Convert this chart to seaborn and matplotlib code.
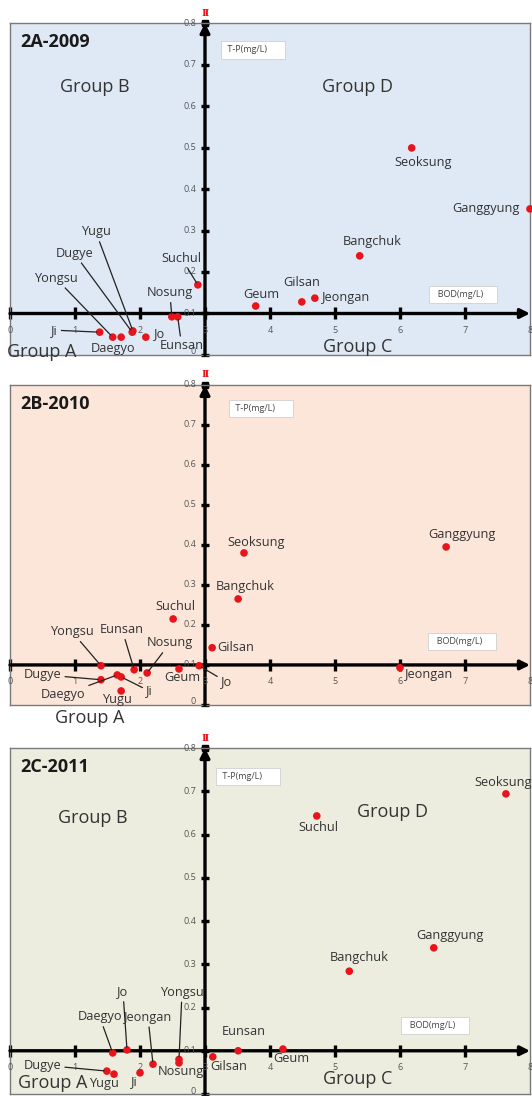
import numpy as np
import pandas as pd
import matplotlib
matplotlib.use('Agg')
import matplotlib.pyplot as plt
import seaborn as sns

sns.set_style('white')
plt.rcParams['font.family'] = ['Open Sans', 'DejaVu Sans']

stations = ['Ji', 'Yongsu', 'Daegyo', 'Dugye', 'Yugu', 'Jo', 'Nosung', 'Eunsan',
            'Suchul', 'Geum', 'Gilsan', 'Jeongan', 'Bangchuk', 'Seoksung', 'Ganggyung']

# BOD (mg/L) and T-P (mg/L) per station
bod_2009 = [1.38, 1.58, 1.71, 1.88, 1.89, 2.09, 2.49, 2.58, 2.89, 3.78, 4.49, 4.69, 5.38, 6.18, 8.00]
tp_2009 = [0.055, 0.043, 0.043, 0.055, 0.058, 0.043, 0.092, 0.092, 0.169, 0.118, 0.128, 0.137, 0.239, 0.499, 0.352]

bod_2010 = [1.71, 1.40, 1.65, 1.40, 1.71, 2.91, 2.11, 1.91, 2.51, 2.60, 3.11, 6.00, 3.51, 3.60, 6.71]
tp_2010 = [0.070, 0.098, 0.075, 0.063, 0.035, 0.098, 0.080, 0.088, 0.215, 0.090, 0.143, 0.093, 0.265, 0.380, 0.395]

bod_2011 = [2.00, 2.60, 1.58, 1.49, 1.60, 1.80, 2.60, 3.51, 4.72, 4.20, 3.12, 2.20, 5.22, 7.63, 6.52]
tp_2011 = [0.049, 0.080, 0.095, 0.053, 0.046, 0.102, 0.072, 0.100, 0.643, 0.104, 0.086, 0.069, 0.284, 0.694, 0.338]

panel_titles = ['2A-2009', '2B-2010', '2C-2011']
x_ticks = list(range(0, 9))
y_ticks = [0, 0.1, 0.2, 0.3, 0.4, 0.5, 0.6, 0.7, 0.8]
y_tick_labels = ['0', '0.1', '0.2', '0.3', '0.4', '0.5', '0.6', '0.7', '0.8']

# label placement: offset in pixels from the dot, and whether a leader line is drawn
offsets_2009 = {'Ji': (-45, 2, True), 'Yongsu': (-57, 59, True), 'Daegyo': (-8, -11, False),
                'Dugye': (-58, 79, True), 'Yugu': (-37, 99, True), 'Jo': (14, 4, False),
                'Nosung': (-2, 24, True), 'Eunsan': (4, -29, True), 'Suchul': (-16, 26, True),
                'Geum': (6, 12, False), 'Gilsan': (0, 19, False), 'Jeongan': (31, 1, False),
                'Bangchuk': (13, 14, False), 'Seoksung': (11, -15, False), 'Ganggyung': (-44, 0, False)}
offsets_2010 = {'Ji': (28, -14, True), 'Yongsu': (-29, 34, True), 'Daegyo': (-54, -20, True),
                'Dugye': (-58, 5, True), 'Yugu': (-4, -9, False), 'Jo': (27, -16, True),
                'Nosung': (23, 30, True), 'Eunsan': (-12, 40, True), 'Suchul': (2, 12, False),
                'Geum': (3, -9, False), 'Gilsan': (24, 0, False), 'Jeongan': (29, -7, False),
                'Bangchuk': (7, 12, False), 'Seoksung': (12, 10, False), 'Ganggyung': (16, 12, False)}
offsets_2011 = {'Ji': (-6, -9, False), 'Yongsu': (3, 67, True), 'Daegyo': (-13, 36, True),
                'Dugye': (-64, 6, True), 'Yugu': (-10, -9, False), 'Jo': (-4, 58, True),
                'Nosung': (2, -9, False), 'Eunsan': (6, 19, False), 'Suchul': (2, -12, False),
                'Geum': (8, -9, False), 'Gilsan': (16, -10, False), 'Jeongan': (-5, 47, True),
                'Bangchuk': (10, 14, False), 'Seoksung': (-3, 11, False), 'Ganggyung': (16, 12, False)}

groups_2009 = {'Group B': (1.31, 0.646), 'Group D': (5.35, 0.646), 'Group A': (0.49, 0.007), 'Group C': (5.35, 0.019)}
groups_2010 = {'Group A': (1.23, -0.033)}
groups_2011 = {'Group B': (1.28, 0.638), 'Group D': (5.88, 0.652), 'Group A': (0.65, 0.025), 'Group C': (5.35, 0.035)}

boxes_2009 = {'tp': (3.74, 0.735), 'bod': (6.97, 0.146)}
boxes_2010 = {'tp': (3.86, 0.741), 'bod': (6.95, 0.159)}
boxes_2011 = {'tp': (3.66, 0.735), 'bod': (6.54, 0.158)}

panels = [
    (bod_2009, tp_2009, offsets_2009, groups_2009, boxes_2009, '#dfe8f5', [0.0188, 0.6761, 0.9774, 0.3029]),
    (bod_2010, tp_2010, offsets_2010, groups_2010, boxes_2010, '#fce6d9', [0.0188, 0.3568, 0.9774, 0.2920]),
    (bod_2011, tp_2011, offsets_2011, groups_2011, boxes_2011, '#ecedde', [0.0188, 0.0018, 0.9774, 0.3157]),
]

fig = plt.figure(figsize=(5.32, 10.96), dpi=100)
txt = '#333333'

for title, (bod, tp, offs, groups, boxes, bg, rect) in zip(panel_titles, panels):
    ax = fig.add_axes(rect)
    ax.set_facecolor(bg)
    for sp in ax.spines.values():
        sp.set_color('#7a7a7a')
        sp.set_linewidth(1.0)
    ax.set_xlim(0, 8)
    ax.set_ylim(0, 0.8)
    ax.set_xticks([])
    ax.set_yticks([])

    # cross axes at BOD=3, T-P=0.1
    ax.annotate('', xy=(8, 0.1), xytext=(0, 0.1),
                arrowprops=dict(arrowstyle='-|>', lw=2.4, color='black', mutation_scale=14,
                                shrinkA=0, shrinkB=0), annotation_clip=False)
    ax.annotate('', xy=(3, 0.8), xytext=(3, 0),
                arrowprops=dict(arrowstyle='-|>', lw=2.4, color='black', mutation_scale=14,
                                shrinkA=0, shrinkB=0), annotation_clip=False)
    ax.plot(x_ticks[:-1], [0.1] * 8, ls='none', marker='|', ms=8.5, mew=2.4, color='black', clip_on=False)
    ax.plot([3] * 9, y_ticks, ls='none', marker='_', ms=6, mew=2.4, color='black', clip_on=False)
    ax.plot([3], [0.8], ls='none', marker='s', ms=4, color='black', clip_on=False)

    for xt in x_ticks:
        ax.annotate(str(xt), xy=(xt, 0.1), xytext=(0, -17), textcoords='offset pixels',
                    ha='center', va='center', fontsize=6.5, color='#555555', annotation_clip=False)
    for yt, yl in zip(y_ticks, y_tick_labels):
        ax.annotate(yl, xy=(3, yt), xytext=(-9, 3 if yt == 0 else 0), textcoords='offset pixels',
                    ha='right', va='center', fontsize=6.5, color='#555555', annotation_clip=False)

    ax.annotate('Ⅱ', xy=(3, 0.8), xytext=(0, 10), textcoords='offset pixels', ha='center',
                va='center', fontsize=7, color='#e8141c', fontweight='bold',
                family=['DejaVu Serif', 'DejaVu Sans'], annotation_clip=False)

    ax.text(*boxes['tp'], ' T-P(mg/L)      ', ha='center', va='center', fontsize=6.5, color='#444444',
            bbox=dict(boxstyle='square,pad=0.45', fc='white', ec='#d0d0d0', lw=0.6))
    ax.text(*boxes['bod'], '  BOD(mg/L)    ', ha='center', va='center', fontsize=6.5, color='#444444',
            bbox=dict(boxstyle='square,pad=0.45', fc='white', ec='#d0d0d0', lw=0.6))

    ax.annotate(title, xy=(0, 1), xycoords='axes fraction', xytext=(10, -19),
                textcoords='offset pixels', ha='left', va='center', fontsize=13,
                fontweight='bold', color='#1a1a1a')

    for g, (gx, gy) in groups.items():
        ax.text(gx, gy, g, ha='center', va='center', fontsize=13, color=txt, clip_on=False)

    df = pd.DataFrame({'station': stations, 'BOD': bod, 'TP': tp})
    sns.scatterplot(data=df, x='BOD', y='TP', ax=ax, color='#e8141c', s=30,
                    edgecolor='none', zorder=6, clip_on=False, legend=False)
    ax.set_xlabel('')
    ax.set_ylabel('')

    for name, x, y in zip(df['station'], df['BOD'], df['TP']):
        dx, dy, leader = offs[name]
        props = dict(arrowstyle='-', lw=0.9, color='#222222', shrinkA=0, shrinkB=2) if leader else None
        ax.annotate(name, xy=(x, y), xytext=(dx, dy), textcoords='offset pixels',
                    ha='center', va='center', fontsize=9.2, color=txt,
                    arrowprops=props, annotation_clip=False, zorder=7)

fig.savefig('out.png', dpi=100)
